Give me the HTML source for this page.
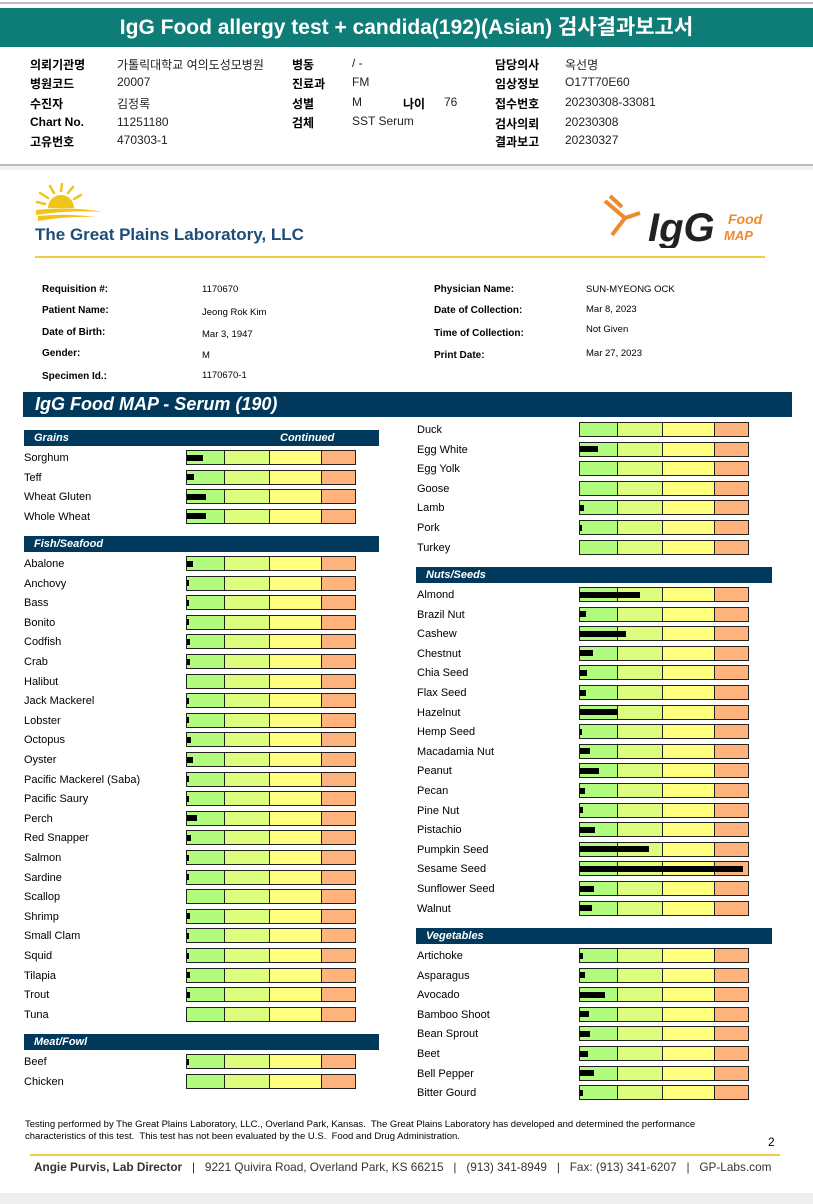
<!DOCTYPE html>
<html><head><meta charset="utf-8">
<style>
*{margin:0;padding:0;box-sizing:border-box}
body{width:813px;height:1204px;position:relative;background:#fff;font-family:"Liberation Sans","Noto Sans CJK KR",sans-serif;color:#000;overflow:hidden}
.a{position:absolute;white-space:nowrap}
.kl{font-size:12px;font-weight:bold}
.kv{font-size:12px;color:#222}
.pl{font-size:10px;font-weight:bold}
.pv{font-size:9.5px}
.sec{position:absolute;height:16px;background:#00395b;color:#fff;font-weight:bold;font-style:italic;font-size:11px;padding-left:10px;line-height:16px}
.lab{position:absolute;font-size:11px;white-space:nowrap}
.bar{position:absolute;height:15px;border:1.5px solid #222;display:flex}
.bar div{height:100%}
.val{position:absolute;height:6px;background:#000}
</style></head><body>
<div class="a" style="left:0;top:2px;width:813px;height:2px;background:#bbb"></div>
<div class="a" style="left:0;top:8px;width:813px;height:39px;background:#0f7d77;color:#fff;font-weight:bold;font-size:21px;text-align:center;line-height:39px">IgG Food allergy test + candida(192)(Asian) 검사결과보고서</div>

<div>
<div class="a kl" style="left:30px;top:56px">의뢰기관명</div><div class="a kv" style="left:117px;top:56px">가톨릭대학교 여의도성모병원</div>
<div class="a kl" style="left:30px;top:75px">병원코드</div><div class="a kv" style="left:117px;top:75px">20007</div>
<div class="a kl" style="left:30px;top:95px">수진자</div><div class="a kv" style="left:117px;top:95px">김정록</div>
<div class="a kl" style="left:30px;top:115px">Chart No.</div><div class="a kv" style="left:117px;top:115px">11251180</div>
<div class="a kl" style="left:30px;top:133px">고유번호</div><div class="a kv" style="left:117px;top:133px">470303-1</div>
<div class="a kl" style="left:292px;top:56px">병동</div><div class="a kv" style="left:352px;top:56px">/ -</div>
<div class="a kl" style="left:292px;top:75px">진료과</div><div class="a kv" style="left:352px;top:75px">FM</div>
<div class="a kl" style="left:292px;top:95px">성별</div><div class="a kv" style="left:352px;top:95px">M</div>
<div class="a kl" style="left:403px;top:95px">나이</div><div class="a kv" style="left:444px;top:95px">76</div>
<div class="a kl" style="left:292px;top:114px">검체</div><div class="a kv" style="left:352px;top:114px">SST Serum</div>
<div class="a kl" style="left:495px;top:56px">담당의사</div><div class="a kv" style="left:565px;top:56px">옥선명</div>
<div class="a kl" style="left:495px;top:75px">임상정보</div><div class="a kv" style="left:565px;top:75px">O17T70E60</div>
<div class="a kl" style="left:495px;top:95px">접수번호</div><div class="a kv" style="left:565px;top:95px">20230308-33081</div>
<div class="a kl" style="left:495px;top:115px">검사의뢰</div><div class="a kv" style="left:565px;top:115px">20230308</div>
<div class="a kl" style="left:495px;top:133px">결과보고</div><div class="a kv" style="left:565px;top:133px">20230327</div>
</div>
<div class="a" style="left:0;top:164px;width:813px;height:2px;background:#bbb"></div>
<div class="a" style="left:0;top:166px;width:813px;height:4px;background:#f0f0f0"></div>

<svg class="a" style="left:35px;top:183px" width="80" height="42" viewBox="0 0 80 42">
<path d="M13 25 A13 13 0 0 1 39 25 Z" fill="#f2c418"/>
<g stroke="#f2c418" stroke-width="2.5" fill="none" stroke-linecap="round"><path d="M26 8 L27 1"/><path d="M19 10 L15 3"/><path d="M33 10 L38 4"/><path d="M13 15 L5 10"/><path d="M39 16 L46 12"/><path d="M10 21 L2 19"/></g>
<path d="M1 27 Q35 23 68 29 Q35 27 1 32Z M3 33 Q30 30 60 34 Q30 33 3 38Z" fill="#f2c418"/>
</svg>
<div class="a" style="left:35px;top:225px;font-size:17px;font-weight:bold;color:#1e4d78">The Great Plains Laboratory, LLC</div>
<svg class="a" style="left:600px;top:193px" width="170" height="55">
<g stroke="#ee8a2a" stroke-width="4" fill="none"><path d="M5 8 L25 25 L40 20"/><path d="M25 25 L12 42"/><path d="M10 3 L22 14"/></g>
<text x="48" y="48" font-family="Liberation Sans" font-weight="bold" font-style="italic" font-size="40" fill="#222">IgG</text>
<text x="128" y="31" font-family="Liberation Sans" font-weight="bold" font-style="italic" font-size="14" fill="#ee8a2a">Food</text>
<text x="124" y="47" font-family="Liberation Sans" font-weight="bold" font-style="italic" font-size="13" fill="#ee8a2a">MAP</text>
</svg>
<div class="a" style="left:35px;top:256px;width:730px;height:2px;background:#f0cd45"></div>

<div>
<div class="a pl" style="left:42px;top:284px">Requisition #:</div><div class="a pv" style="left:202px;top:284px">1170670</div>
<div class="a pl" style="left:42px;top:305px">Patient Name:</div><div class="a pv" style="left:202px;top:307px">Jeong Rok Kim</div>
<div class="a pl" style="left:42px;top:327px">Date of Birth:</div><div class="a pv" style="left:202px;top:329px">Mar 3, 1947</div>
<div class="a pl" style="left:42px;top:348px">Gender:</div><div class="a pv" style="left:202px;top:350px">M</div>
<div class="a pl" style="left:42px;top:371px">Specimen Id.:</div><div class="a pv" style="left:202px;top:370px">1170670-1</div>
<div class="a pl" style="left:434px;top:284px">Physician Name:</div><div class="a pv" style="left:586px;top:284px">SUN-MYEONG OCK</div>
<div class="a pl" style="left:434px;top:305px">Date of Collection:</div><div class="a pv" style="left:586px;top:304px">Mar 8, 2023</div>
<div class="a pl" style="left:434px;top:328px">Time of Collection:</div><div class="a pv" style="left:586px;top:324px">Not Given</div>
<div class="a pl" style="left:434px;top:350px">Print Date:</div><div class="a pv" style="left:586px;top:348px">Mar 27, 2023</div>
</div>

<div class="a" style="left:23px;top:392px;width:769px;height:25px;background:#00395b;color:#fff;font-weight:bold;font-style:italic;font-size:18px;line-height:25px;padding-left:12px">IgG Food MAP - Serum (190)</div>

<div id="chart"></div>

<div class="a" style="left:25px;top:1119px;font-size:9.5px;line-height:12px">Testing performed by The Great Plains Laboratory, LLC., Overland Park, Kansas.&nbsp; The Great Plains Laboratory has developed and determined the performance<br>characteristics of this test.&nbsp; This test has not been evaluated by the U.S.&nbsp; Food and Drug Administration.</div>
<div class="a" style="left:768px;top:1135px;font-size:12px">2</div>
<div class="a" style="left:30px;top:1154px;width:750px;height:2px;background:#f0cd45"></div>
<div class="a" style="left:34px;top:1160px;font-size:11.8px;color:#333"><b>Angie Purvis, Lab Director</b> &nbsp; | &nbsp; 9221 Quivira Road, Overland Park, KS 66215 &nbsp; | &nbsp; (913) 341-8949 &nbsp; | &nbsp; Fax: (913) 341-6207 &nbsp; | &nbsp; GP-Labs.com</div>
<div class="a" style="left:0;top:1193px;width:813px;height:11px;background:#eeeeee"></div>

<script>
// Data: values on a 0-168 scale (bar track length)
const grains = ["Sorghum","Teff","Wheat Gluten","Whole Wheat"];
const grainVals = [16,7,19,19];
const fish = ["Abalone","Anchovy","Bass","Bonito","Codfish","Crab","Halibut","Jack Mackerel","Lobster","Octopus","Oyster","Pacific Mackerel (Saba)","Pacific Saury","Perch","Red Snapper","Salmon","Sardine","Scallop","Shrimp","Small Clam","Squid","Tilapia","Trout","Tuna"];
const fishVals = [6,2,2,2,3,3,0,2,2,4,6,2,2,10,4,2,2,0,3,2,2,3,3,0];
const meat1 = ["Beef","Chicken"];
const meat1Vals = [2,0];
const meat2 = ["Duck","Egg White","Egg Yolk","Goose","Lamb","Pork","Turkey"];
const meat2Vals = [0,18,0,0,4,2,0];
const nuts = ["Almond","Brazil Nut","Cashew","Chestnut","Chia Seed","Flax Seed","Hazelnut","Hemp Seed","Macadamia Nut","Peanut","Pecan","Pine Nut","Pistachio","Pumpkin Seed","Sesame Seed","Sunflower Seed","Walnut"];
const nutVals = [60,6,46,13,7,6,38,2,10,19,5,3,15,69,163,14,12];
const veg = ["Artichoke","Asparagus","Avocado","Bamboo Shoot","Bean Sprout","Beet","Bell Pepper","Bitter Gourd"];
const vegVals = [3,5,25,9,10,8,14,3];
const zoneBreaks = [0,38,83,135,168];
const zoneColors = ["#b1fc7f","#ddfd7f","#ffff80","#ffb47e"];

const chart = document.getElementById('chart');
const PITCH = 19.6, TRACK = 168;
function xScale(v, x0){ return x0 + v/TRACK*TRACK; }
function addHeader(text, x, y, w, extra){
  const h = document.createElement('div');
  h.className = 'sec';
  
  
  h.style.left = x+'px'; h.style.top = y+'px'; h.style.width = w+'px';
  h.textContent = text;
  if (extra){
    const c = document.createElement('span');
    
    
    c.style.position='absolute'; c.style.left='256px';
    c.textContent = extra;
    h.appendChild(c);
  }
  chart.appendChild(h);
}
function addRows(names, vals, labX, barX, y0){
  names.forEach((n,i)=>{
    const cy = y0 + i*PITCH;
    const l = document.createElement('div');
    l.className='lab';
    
    
    l.style.left=labX+'px'; l.style.top=(cy-6)+'px';
    l.textContent=n;
    chart.appendChild(l);
    const b = document.createElement('div');
    b.className='bar';
    
    
    b.style.left=(barX-1)+'px'; b.style.top=(cy-8)+'px'; b.style.width=(TRACK+2)+'px';
    for(let z=0;z<4;z++){
      const s=document.createElement('div');
      s.style.width=(zoneBreaks[z+1]-zoneBreaks[z])+'px';
      s.style.background=zoneColors[z];
      if(z<3) s.style.borderRight='1.5px solid #222';
      b.appendChild(s);
    }
    chart.appendChild(b);
    if(vals[i]>0){
      const v=document.createElement('div');
      v.className='val';
      
      
      v.style.left=barX+'px'; v.style.top=(cy-3.5)+'px';
      v.style.width=(xScale(vals[i],barX)-barX)+'px';
      chart.appendChild(v);
    }
  });
}
addHeader('Grains',24,430,355,'Continued');
addRows(grains,grainVals,24,187,458);
addHeader('Fish/Seafood',24,536,355);
addRows(fish,fishVals,24,187,564);
addHeader('Meat/Fowl',24,1034,355);
addRows(meat1,meat1Vals,24,187,1062);
addRows(meat2,meat2Vals,417,580,430);
addHeader('Nuts/Seeds',416,567,356);
addRows(nuts,nutVals,417,580,595);
addHeader('Vegetables',416,928,356);
addRows(veg,vegVals,417,580,956);
</script>
</body></html>
